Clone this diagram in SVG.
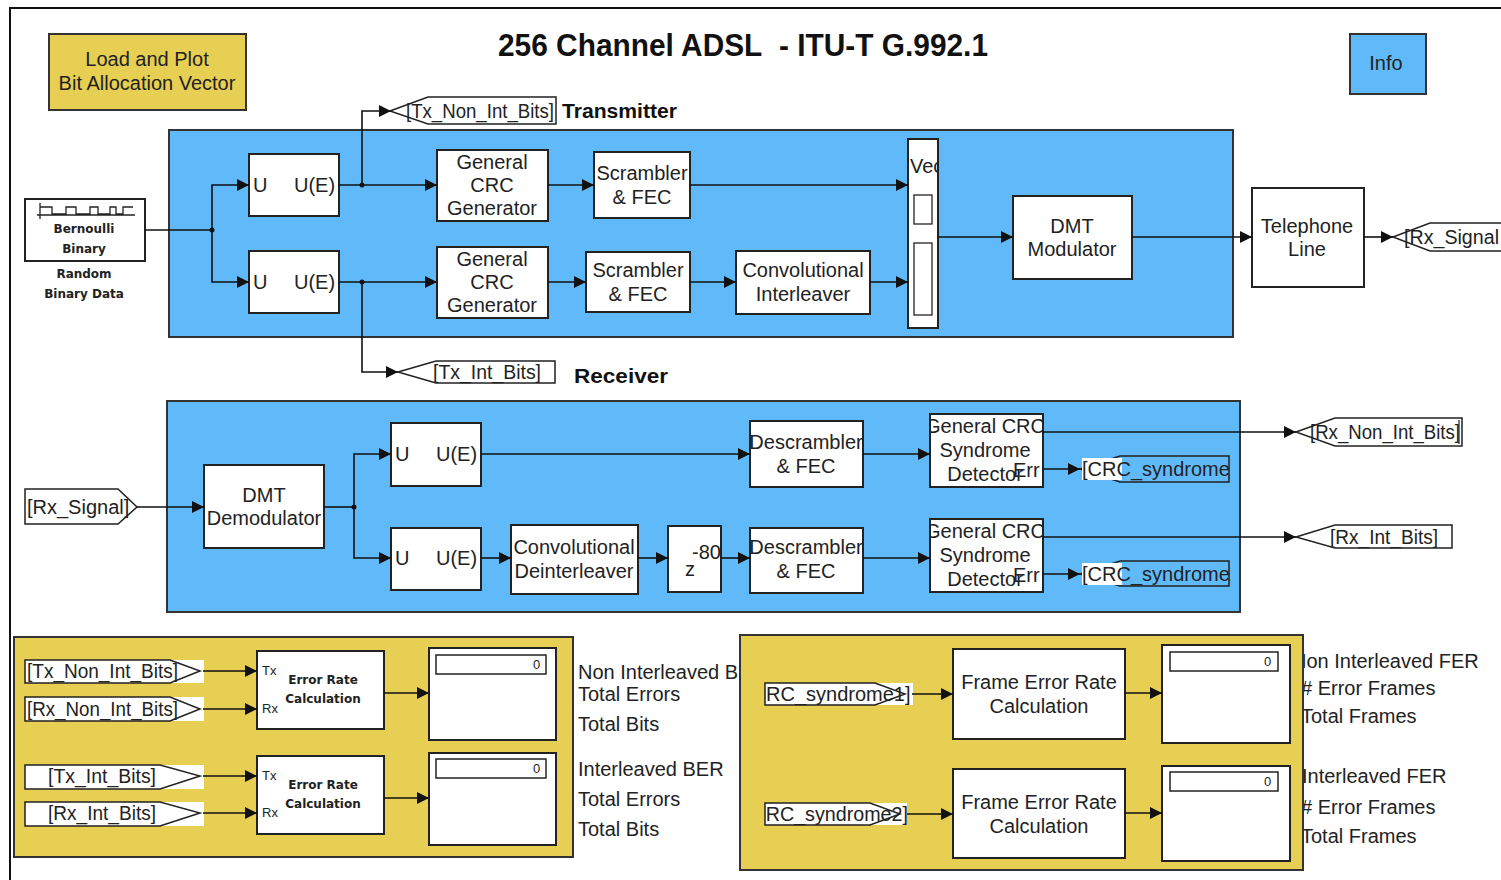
<svg xmlns="http://www.w3.org/2000/svg" width="1501" height="880" viewBox="0 0 1501 880">
<style>
.bg{fill:#ffffff}
.blk{fill:#ffffff;stroke:#222;stroke-width:2}
.sub{fill:#60BAFA;stroke:#333;stroke-width:2}
.yel{fill:#E6CF52;stroke:#333;stroke-width:2}
.tag{fill:none;stroke:#222;stroke-width:1.5}
.tagw{fill:#ffffff;stroke:#222;stroke-width:1.5}
.t{font-family:"Liberation Sans",Arial,sans-serif;font-size:20px;fill:#222;text-anchor:middle}
.tl{font-family:"Liberation Sans",Arial,sans-serif;font-size:20px;fill:#222}
.s{font-family:"DejaVu Sans","Liberation Sans",sans-serif;font-size:12px;fill:#222;text-anchor:middle;font-weight:bold}
.sl{font-family:"Liberation Sans",Arial,sans-serif;font-size:13px;fill:#222}
.b{font-family:"Liberation Sans",Arial,sans-serif;font-weight:bold;fill:#111}
.c{fill:none;stroke:#111;stroke-width:1.6}
</style>
<defs>
<marker id="ar" viewBox="0 0 10 10" refX="10" refY="5" markerWidth="12" markerHeight="12" markerUnits="userSpaceOnUse" orient="auto">
<path d="M0,0 L10,5 L0,10 z" fill="#111"/>
</marker>
<clipPath id="cDesc1"><rect x="751" y="422" width="111" height="64"/></clipPath>
<clipPath id="cDesc2"><rect x="751" y="529" width="111" height="63"/></clipPath>
<clipPath id="cCrc1"><rect x="931" y="415" width="111" height="71"/></clipPath>
<clipPath id="cCrc2"><rect x="931" y="520" width="111" height="71"/></clipPath>
<clipPath id="cVe"><rect x="909" y="140" width="28" height="187"/></clipPath>
<clipPath id="cZ"><rect x="669" y="527" width="51" height="64"/></clipPath>
<clipPath id="cSyn1"><rect x="765" y="678" width="150" height="32"/></clipPath>
<clipPath id="cSyn2"><rect x="765" y="798" width="145" height="32"/></clipPath>
<clipPath id="cCs1"><rect x="1080" y="452" width="151" height="34"/></clipPath>
<clipPath id="cCs2"><rect x="1080" y="557" width="151" height="34"/></clipPath>
</defs>
<rect class="bg" x="0" y="0" width="1501" height="880"/>
<path d="M10,880 V8 H1501" fill="none" stroke="#111" stroke-width="2"/>

<g id="title">
<text class="b" x="498" y="56" font-size="31" textLength="490" lengthAdjust="spacingAndGlyphs">256 Channel ADSL&#160; - ITU-T G.992.1</text>
</g>

<g id="load-plot">
<rect class="yel" x="49" y="34" width="197" height="76"/>
<text class="t" x="147" y="66">Load and Plot</text>
<text class="t" x="147" y="90">Bit Allocation Vector</text>
</g>

<g id="info">
<rect x="1350" y="34" width="76" height="60" fill="#60BAFA" stroke="#333" stroke-width="2"/>
<text class="t" x="1386" y="70" font-size="18">Info</text>
</g>

<g id="transmitter">
<rect class="sub" x="169" y="130" width="1064" height="207"/>
</g>
<text class="b" x="562" y="118" font-size="20" textLength="115" lengthAdjust="spacingAndGlyphs">Transmitter</text>

<g id="receiver">
<rect class="sub" x="167" y="401" width="1073" height="211"/>
</g>
<text class="b" x="574" y="383" font-size="20" textLength="94" lengthAdjust="spacingAndGlyphs">Receiver</text>

<g id="bernoulli">
<rect class="blk" x="25" y="199" width="120" height="62"/>
<path d="M37,215 H135 M40,203 V219 M40,207 H52 V214 H66 V207 H76 V214 H90 V207 H98 V214 H110 V207 H116 V214 H123 V207 H133" fill="none" stroke="#222" stroke-width="1.3"/>
<text class="s" x="84" y="233">Bernoulli</text>
<text class="s" x="84" y="253">Binary</text>
<text class="s" x="84" y="278">Random</text>
<text class="s" x="84" y="298">Binary Data</text>
</g>

<g id="tx-u1"><rect class="blk" x="249" y="154" width="90" height="62"/><text class="tl" x="253" y="192">U</text><text class="tl" x="294" y="192">U(E)</text></g>
<g id="tx-u2"><rect class="blk" x="249" y="251" width="90" height="62"/><text class="tl" x="253" y="289">U</text><text class="tl" x="294" y="289">U(E)</text></g>

<g id="crc-gen1"><rect class="blk" x="437" y="150" width="111" height="71"/><text class="t" x="492" y="169">General</text><text class="t" x="492" y="192">CRC</text><text class="t" x="492" y="215">Generator</text></g>
<g id="crc-gen2"><rect class="blk" x="437" y="247" width="111" height="71"/><text class="t" x="492" y="266">General</text><text class="t" x="492" y="289">CRC</text><text class="t" x="492" y="312">Generator</text></g>

<g id="scr1"><rect class="blk" x="594" y="152" width="96" height="66"/><text class="t" x="642" y="180">Scrambler</text><text class="t" x="642" y="204">&amp; FEC</text></g>
<g id="scr2"><rect class="blk" x="586" y="252" width="104" height="60"/><text class="t" x="638" y="277">Scrambler</text><text class="t" x="638" y="301">&amp; FEC</text></g>

<g id="conv-int"><rect class="blk" x="736" y="251" width="134" height="63"/><text class="t" x="803" y="277">Convolutional</text><text class="t" x="803" y="301">Interleaver</text></g>

<g id="vec">
<rect class="blk" x="908" y="139" width="30" height="189"/>
<text class="tl" x="910" y="173" clip-path="url(#cVe)">Vector</text>
<rect x="914" y="195" width="18" height="29" fill="#fff" stroke="#222" stroke-width="1.3"/>
<rect x="914" y="243" width="18" height="72" fill="#fff" stroke="#222" stroke-width="1.3"/>
</g>

<g id="dmt-mod"><rect class="blk" x="1013" y="196" width="119" height="83"/><text class="t" x="1072" y="233">DMT</text><text class="t" x="1072" y="256">Modulator</text></g>

<g id="tel"><rect class="blk" x="1252" y="188" width="112" height="99"/><text class="t" x="1307" y="233">Telephone</text><text class="t" x="1307" y="256">Line</text></g>

<g id="goto-rx-signal"><path class="tag" d="M1393,237 L1430,223 H1510 V251 H1430 Z"/><text class="tl" x="1404" y="244" textLength="95" lengthAdjust="spacingAndGlyphs">[Rx_Signal</text></g>
<g id="goto-tx-nonint"><path class="tagw" d="M390,111 L428,97 H556 V124 H428 Z"/><text class="tl" x="406" y="118" textLength="148" lengthAdjust="spacingAndGlyphs">[Tx_Non_Int_Bits]</text></g>
<g id="goto-tx-int"><path class="tagw" d="M398,372 L436,361 H555 V383 H436 Z"/><text class="tl" x="433" y="379" textLength="108" lengthAdjust="spacingAndGlyphs">[Tx_Int_Bits]</text></g>

<g id="from-rx-signal"><path class="tagw" d="M25,489 H118 L137,507 L118,524 H25 Z"/><text class="tl" x="27" y="514">[Rx_Signal]</text></g>

<g id="dmt-demod"><rect class="blk" x="204" y="465" width="120" height="83"/><text class="t" x="264" y="502">DMT</text><text class="t" x="264" y="525">Demodulator</text></g>

<g id="rx-u1"><rect class="blk" x="391" y="423" width="90" height="63"/><text class="tl" x="395" y="461">U</text><text class="tl" x="436" y="461">U(E)</text></g>
<g id="rx-u2"><rect class="blk" x="391" y="528" width="90" height="62"/><text class="tl" x="395" y="565">U</text><text class="tl" x="436" y="565">U(E)</text></g>

<g id="deint"><rect class="blk" x="511" y="525" width="127" height="69"/><text class="t" x="574" y="554">Convolutional</text><text class="t" x="574" y="578">Deinterleaver</text></g>

<g id="delay"><rect class="blk" x="668" y="526" width="53" height="66"/><g clip-path="url(#cZ)"><text class="tl" x="685" y="576" font-size="17">z</text><text class="tl" x="692" y="559" font-size="17">-800</text></g></g>

<g id="descr1"><rect class="blk" x="750" y="421" width="113" height="66"/><g clip-path="url(#cDesc1)"><text class="t" x="806" y="449">Descrambler</text><text class="t" x="806" y="473">&amp; FEC</text></g></g>
<g id="descr2"><rect class="blk" x="750" y="528" width="113" height="65"/><g clip-path="url(#cDesc2)"><text class="t" x="806" y="554">Descrambler</text><text class="t" x="806" y="578">&amp; FEC</text></g></g>

<g id="crc-det1"><rect class="blk" x="930" y="414" width="113" height="73"/><g clip-path="url(#cCrc1)"><text class="t" x="985" y="433">General CRC</text><text class="t" x="985" y="457">Syndrome</text><text class="t" x="985" y="481">Detector</text><text class="tl" x="1013" y="477" font-size="17">Err</text></g></g>
<g id="crc-det2"><rect class="blk" x="930" y="519" width="113" height="73"/><g clip-path="url(#cCrc2)"><text class="t" x="985" y="538">General CRC</text><text class="t" x="985" y="562">Syndrome</text><text class="t" x="985" y="586">Detector</text><text class="tl" x="1013" y="582" font-size="17">Err</text></g></g>

<g id="goto-rx-nonint"><path class="tag" d="M1296,432 L1335,418 H1462 V446 H1335 Z"/><path d="M1459,420 V444" stroke="#222" stroke-width="1.2"/><text class="tl" x="1310" y="439" textLength="150" lengthAdjust="spacingAndGlyphs">[Rx_Non_Int_Bits]</text></g>
<g id="goto-rx-int"><path class="tag" d="M1296,537 L1335,525 H1452 V548 H1335 Z"/><text class="tl" x="1330" y="544" textLength="108" lengthAdjust="spacingAndGlyphs">[Rx_Int_Bits]</text></g>
<g id="goto-crc1"><path class="tag" d="M1080,469 L1120,456 H1229 V482 H1120 Z"/><rect x="1082" y="458" width="40" height="22" fill="#fff"/><text class="tl" x="1082" y="476" clip-path="url(#cCs1)">[CRC_syndrome1]</text></g>
<g id="goto-crc2"><path class="tag" d="M1080,574 L1120,561 H1229 V586 H1120 Z"/><rect x="1082" y="563" width="40" height="22" fill="#fff"/><text class="tl" x="1082" y="581" clip-path="url(#cCs2)">[CRC_syndrome2]</text></g>

<g id="labels-ber">
<text class="tl" x="578" y="679">Non Interleaved BER</text>
<text class="tl" x="578" y="701">Total Errors</text>
<text class="tl" x="578" y="731">Total Bits</text>
<text class="tl" x="578" y="776">Interleaved BER</text>
<text class="tl" x="578" y="806">Total Errors</text>
<text class="tl" x="578" y="836">Total Bits</text>
</g>
<g id="labels-fer">
<text class="tl" x="1292" y="668">Non Interleaved FER</text>
<text class="tl" x="1301" y="695"># Error Frames</text>
<text class="tl" x="1301" y="723">Total Frames</text>
<text class="tl" x="1302" y="783">Interleaved FER</text>
<text class="tl" x="1301" y="814"># Error Frames</text>
<text class="tl" x="1301" y="843">Total Frames</text>
</g>

<g id="ber-panel"><rect class="yel" x="14" y="637" width="559" height="220"/></g>
<g id="fer-panel"><rect class="yel" x="740" y="635" width="563" height="235"/></g>

<g id="from-tx-nonint"><rect x="25" y="660" width="179" height="23" fill="#fff"/><path class="tag" d="M25,660 H170 L200,671 L170,683 H25 Z"/><text class="tl" x="27" y="678" textLength="151" lengthAdjust="spacingAndGlyphs">[Tx_Non_Int_Bits]</text></g>
<g id="from-rx-nonint"><rect x="25" y="697" width="179" height="24" fill="#fff"/><path class="tag" d="M25,697 H170 L200,709 L170,721 H25 Z"/><text class="tl" x="27" y="716" textLength="151" lengthAdjust="spacingAndGlyphs">[Rx_Non_Int_Bits]</text></g>
<g id="from-tx-int"><rect x="25" y="765" width="179" height="24" fill="#fff"/><path class="tag" d="M25,765 H160 L200,776 L160,789 H25 Z"/><text class="tl" x="48" y="783" textLength="108" lengthAdjust="spacingAndGlyphs">[Tx_Int_Bits]</text></g>
<g id="from-rx-int"><rect x="25" y="802" width="179" height="24" fill="#fff"/><path class="tag" d="M25,802 H160 L200,813 L160,826 H25 Z"/><text class="tl" x="48" y="820" textLength="108" lengthAdjust="spacingAndGlyphs">[Rx_Int_Bits]</text></g>

<g id="err-rate1"><rect class="blk" x="257" y="651" width="127" height="78"/><text class="sl" x="262" y="675">Tx</text><text class="sl" x="262" y="713">Rx</text><text class="s" x="323" y="684">Error Rate</text><text class="s" x="323" y="703">Calculation</text></g>
<g id="err-rate2"><rect class="blk" x="257" y="756" width="127" height="78"/><text class="sl" x="262" y="780">Tx</text><text class="sl" x="262" y="817">Rx</text><text class="s" x="323" y="789">Error Rate</text><text class="s" x="323" y="808">Calculation</text></g>

<g id="disp1"><rect class="blk" x="429" y="648" width="127" height="92"/><rect x="436" y="655" width="110" height="19" fill="#fff" stroke="#222" stroke-width="1.5"/><text class="sl" x="533" y="669">0</text></g>
<g id="disp2"><rect class="blk" x="429" y="753" width="127" height="92"/><rect x="436" y="759" width="110" height="19" fill="#fff" stroke="#222" stroke-width="1.5"/><text class="sl" x="533" y="773">0</text></g>

<g id="from-syn1"><rect x="765" y="683" width="148" height="22" fill="#fff"/><path class="tag" d="M765,683 H875 L905,694 L875,705 H765 Z"/><text class="tl" x="746" y="701" clip-path="url(#cSyn1)">[CRC_syndrome1]</text></g>
<g id="from-syn2"><rect x="765" y="803" width="142" height="22" fill="#fff"/><path class="tag" d="M765,803 H870 L900,814 L870,825 H765 Z"/><text class="tl" x="746" y="821" clip-path="url(#cSyn2)" textLength="162" lengthAdjust="spacingAndGlyphs">[CRC_syndrome2]</text></g>

<g id="fer1"><rect class="blk" x="953" y="649" width="172" height="90"/><text class="t" x="1039" y="689">Frame Error Rate</text><text class="t" x="1039" y="713">Calculation</text></g>
<g id="fer2"><rect class="blk" x="953" y="769" width="172" height="89"/><text class="t" x="1039" y="809">Frame Error Rate</text><text class="t" x="1039" y="833">Calculation</text></g>

<g id="disp3"><rect class="blk" x="1162" y="645" width="128" height="98"/><rect x="1170" y="652" width="108" height="19" fill="#fff" stroke="#222" stroke-width="1.5"/><text class="sl" x="1264" y="666">0</text></g>
<g id="disp4"><rect class="blk" x="1162" y="766" width="128" height="95"/><rect x="1170" y="772" width="108" height="19" fill="#fff" stroke="#222" stroke-width="1.5"/><text class="sl" x="1264" y="786">0</text></g>

<g id="connectors">
<path class="c" d="M145,230 H212"/>
<path class="c" d="M212,230 V185 H249" marker-end="url(#ar)"/>
<path class="c" d="M212,230 V282 H249" marker-end="url(#ar)"/>
<path class="c" d="M339,185 H437" marker-end="url(#ar)"/>
<path class="c" d="M362,185 V111 H391" marker-end="url(#ar)"/>
<path class="c" d="M339,282 H437" marker-end="url(#ar)"/>
<path class="c" d="M362,282 V372 H398" marker-end="url(#ar)"/>
<path class="c" d="M548,185 H594" marker-end="url(#ar)"/>
<path class="c" d="M548,282 H586" marker-end="url(#ar)"/>
<path class="c" d="M690,185 H908" marker-end="url(#ar)"/>
<path class="c" d="M690,282 H736" marker-end="url(#ar)"/>
<path class="c" d="M870,282 H908" marker-end="url(#ar)"/>
<path class="c" d="M938,237 H1013" marker-end="url(#ar)"/>
<path class="c" d="M1132,237 H1252" marker-end="url(#ar)"/>
<path class="c" d="M1364,237 H1393" marker-end="url(#ar)"/>
<path class="c" d="M137,507 H204" marker-end="url(#ar)"/>
<path class="c" d="M324,507 H354"/>
<path class="c" d="M354,507 V454 H391" marker-end="url(#ar)"/>
<path class="c" d="M354,507 V558 H391" marker-end="url(#ar)"/>
<path class="c" d="M481,454 H750" marker-end="url(#ar)"/>
<path class="c" d="M481,558 H511" marker-end="url(#ar)"/>
<path class="c" d="M638,558 H668" marker-end="url(#ar)"/>
<path class="c" d="M721,558 H750" marker-end="url(#ar)"/>
<path class="c" d="M863,454 H930" marker-end="url(#ar)"/>
<path class="c" d="M863,558 H930" marker-end="url(#ar)"/>
<path class="c" d="M1043,432 H1296" marker-end="url(#ar)"/>
<path class="c" d="M1043,469 H1080" marker-end="url(#ar)"/>
<path class="c" d="M1043,537 H1296" marker-end="url(#ar)"/>
<path class="c" d="M1043,574 H1080" marker-end="url(#ar)"/>
<path class="c" d="M203,671 H257" marker-end="url(#ar)"/>
<path class="c" d="M203,709 H257" marker-end="url(#ar)"/>
<path class="c" d="M203,776 H257" marker-end="url(#ar)"/>
<path class="c" d="M203,813 H257" marker-end="url(#ar)"/>
<path class="c" d="M384,693 H429" marker-end="url(#ar)"/>
<path class="c" d="M384,798 H429" marker-end="url(#ar)"/>
<path class="c" d="M912,694 H953" marker-end="url(#ar)"/>
<path class="c" d="M907,814 H953" marker-end="url(#ar)"/>
<path class="c" d="M1125,693 H1162" marker-end="url(#ar)"/>
<path class="c" d="M1125,813 H1162" marker-end="url(#ar)"/>
<circle cx="212" cy="230" r="2.5" fill="#111"/>
<circle cx="362" cy="185" r="2.5" fill="#111"/>
<circle cx="362" cy="282" r="2.5" fill="#111"/>
<circle cx="354" cy="507" r="2.5" fill="#111"/>
</g>
</svg>
